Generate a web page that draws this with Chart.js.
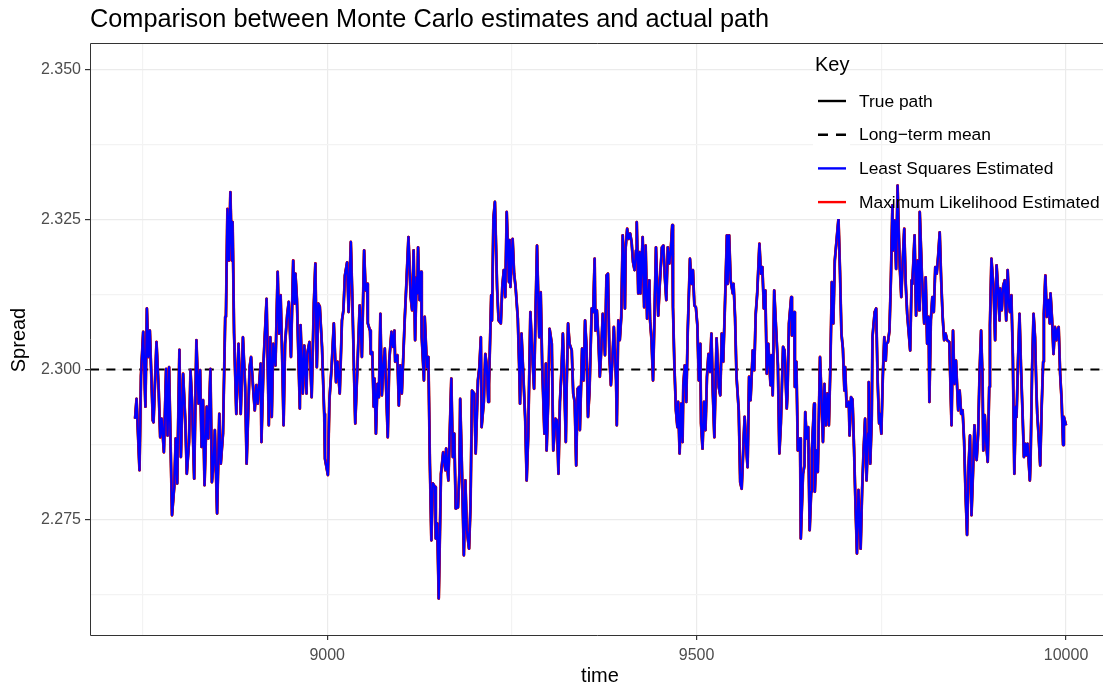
<!DOCTYPE html>
<html>
<head>
<meta charset="utf-8">
<script src="https://cdn.jsdelivr.net/npm/chart.js@4.4.1/dist/chart.umd.min.js"></script>
<style>
  html, body { margin: 0; padding: 0; background: #fff; overflow: hidden; }
  canvas { display: block; }
</style>
</head>
<body>
<canvas id="spreadChart" width="1103" height="687"></canvas>
<script>
// Simulated spread path (time steps 8740..10000)
const time = [
    8740, 8742, 8746, 8748, 8751, 8754, 8756, 8758, 8760, 8764,
    8765, 8769, 8772, 8774, 8776, 8779, 8782, 8784, 8786, 8790,
    8793, 8795, 8797, 8800, 8802, 8805, 8808, 8810, 8813, 8815,
    8817, 8820, 8823, 8826, 8828, 8830, 8832, 8834, 8837, 8839,
    8842, 8844, 8846, 8848, 8851, 8854, 8856, 8859, 8862, 8863,
    8865, 8867, 8869, 8871, 8872, 8874, 8877, 8880, 8883, 8886,
    8889, 8891, 8895, 8897, 8900, 8902, 8904, 8906, 8910, 8911,
    8914, 8918, 8921, 8923, 8925, 8927, 8930, 8933, 8935, 8937,
    8939, 8941, 8943, 8946, 8948, 8951, 8954, 8956, 8957, 8959,
    8963, 8964, 8967, 8969, 8972, 8973, 8976, 8979, 8982, 8984,
    8986, 8988, 8990, 8993, 8996, 8997, 9001, 9003, 9006, 9009,
    9012, 9014, 9017, 9020, 9022, 9024, 9027, 9029, 9032, 9034,
    9037, 9038, 9041, 9044, 9047, 9050, 9052, 9054, 9055, 9058,
    9059, 9061, 9063, 9064, 9066, 9068, 9070, 9072, 9074, 9076,
    9078, 9082, 9084, 9087, 9089, 9091, 9092, 9095, 9097, 9099,
    9101, 9103, 9105, 9107, 9110, 9113, 9115, 9117, 9119, 9121,
    9122, 9123, 9125, 9127, 9128, 9131, 9132, 9135, 9137, 9139,
    9141, 9143, 9146, 9147, 9149, 9151, 9154, 9155, 9157, 9160,
    9161, 9164, 9166, 9168, 9170, 9172, 9174, 9177, 9179, 9180,
    9182, 9185, 9187, 9189, 9192, 9194, 9196, 9199, 9201, 9204,
    9206, 9208, 9209, 9212, 9214, 9216, 9218, 9219, 9222, 9223,
    9225, 9227, 9230, 9232, 9235, 9237, 9239, 9241, 9243, 9246,
    9247, 9248, 9251, 9253, 9255, 9258, 9260, 9261, 9263, 9265,
    9268, 9270, 9272, 9275, 9278, 9280, 9282, 9284, 9287, 9289,
    9291, 9294, 9296, 9297, 9299, 9301, 9304, 9306, 9309, 9311,
    9313, 9315, 9317, 9319, 9320, 9323, 9324, 9326, 9328, 9331,
    9333, 9335, 9337, 9339, 9341, 9342, 9345, 9347, 9349, 9351,
    9353, 9355, 9358, 9360, 9362, 9363, 9365, 9367, 9369, 9371,
    9373, 9376, 9378, 9380, 9382, 9384, 9386, 9388, 9391, 9392,
    9394, 9396, 9398, 9400, 9403, 9404, 9406, 9408, 9410, 9412,
    9414, 9416, 9418, 9419, 9421, 9423, 9424, 9427, 9429, 9431,
    9433, 9436, 9437, 9439, 9441, 9443, 9445, 9448, 9450, 9453,
    9455, 9457, 9459, 9461, 9463, 9465, 9467, 9468, 9470, 9472,
    9474, 9475, 9477, 9479, 9481, 9482, 9484, 9486, 9488, 9491,
    9493, 9495, 9497, 9499, 9501, 9503, 9505, 9506, 9508, 9510,
    9512, 9514, 9516, 9518, 9520, 9522, 9524, 9527, 9530, 9532,
    9534, 9536, 9538, 9541, 9542, 9544, 9546, 9549, 9550, 9552,
    9554, 9557, 9559, 9561, 9564, 9565, 9567, 9569, 9571, 9573,
    9576, 9578, 9580, 9582, 9585, 9587, 9589, 9591, 9593, 9595,
    9597, 9600, 9601, 9603, 9605, 9607, 9610, 9612, 9614, 9617,
    9619, 9622, 9623, 9625, 9628, 9629, 9632, 9633, 9635, 9637,
    9640, 9641, 9644, 9646, 9647, 9649, 9651, 9653, 9655, 9656,
    9659, 9660, 9662, 9664, 9667, 9669, 9671, 9673, 9675, 9677,
    9679, 9681, 9683, 9685, 9687, 9690, 9692, 9694, 9696, 9698,
    9700, 9701, 9703, 9706, 9707, 9709, 9711, 9713, 9715, 9717,
    9719, 9722, 9724, 9726, 9728, 9730, 9732, 9733, 9735, 9737,
    9738, 9741, 9743, 9745, 9747, 9748, 9750, 9752, 9754, 9756,
    9757, 9759, 9761, 9763, 9765, 9766, 9768, 9770, 9772, 9773,
    9775, 9777, 9779, 9781, 9783, 9785, 9787, 9789, 9791, 9792,
    9795, 9797, 9799, 9801, 9802, 9805, 9806, 9808, 9810, 9812,
    9814, 9815, 9817, 9819, 9821, 9823, 9825, 9827, 9829, 9831,
    9833, 9835, 9837, 9839, 9842, 9845, 9847, 9849, 9851, 9854,
    9856, 9858, 9860, 9862, 9864, 9866, 9868, 9870, 9872, 9874,
    9876, 9878, 9879, 9881, 9883, 9885, 9887, 9888, 9890, 9892,
    9894, 9896, 9897, 9899, 9902, 9904, 9906, 9908, 9910, 9911,
    9913, 9915, 9917, 9919, 9921, 9923, 9924, 9926, 9928, 9930,
    9932, 9933, 9935, 9937, 9939, 9941, 9943, 9945, 9946, 9948,
    9951, 9952, 9954, 9956, 9958, 9960, 9961, 9963, 9965, 9967,
    9969, 9970, 9972, 9974, 9976, 9978, 9979, 9981, 9983, 9985,
    9987, 9988, 9990, 9992, 9994, 9996, 9997, 10000
];

const truePath = [
    2.2918, 2.2951, 2.2832, 2.2990, 2.3063, 2.2938, 2.3102, 2.3021, 2.3065, 2.2915,
    2.2912, 2.3046, 2.2965, 2.2887, 2.2918, 2.2862, 2.3001, 2.2890, 2.3004, 2.2757,
    2.2804, 2.2885, 2.2810, 2.3033, 2.2854, 2.2993, 2.2915, 2.2826, 2.2879, 2.2999,
    2.2949, 2.2818, 2.3049, 2.2943, 2.2999, 2.2871, 2.2949, 2.2807, 2.2938, 2.2885,
    2.3001, 2.2812, 2.2840, 2.2899, 2.2760, 2.2926, 2.2843, 2.2893, 2.3088, 2.3090,
    2.3268, 2.3182, 2.3296, 2.3182, 2.3246, 2.3060, 2.2926, 2.3043, 2.2926, 2.3054,
    2.2971, 2.2843, 2.3004, 2.3021, 2.2965, 2.2932, 2.2974, 2.2943, 2.3010, 2.2879,
    2.3015, 2.3118, 2.2907, 2.3054, 2.2921, 2.3043, 2.3007, 2.3163, 2.3060, 2.3124,
    2.3026, 2.2907, 2.3043, 2.3093, 2.3113, 2.3021, 2.3182, 2.3110, 2.3160, 2.3118,
    2.2935, 2.3074, 2.2960, 2.3040, 2.2960, 2.3026, 2.3046, 2.2954, 2.3110, 2.3177,
    2.3004, 2.3110, 2.3105, 2.3038, 2.2926, 2.2851, 2.2824, 2.2949, 2.3004, 2.3077,
    2.2979, 2.3013, 2.2960, 2.3082, 2.3099, 2.3157, 2.3179, 2.3096, 2.3213, 2.3121,
    2.2960, 2.2910, 2.3007, 2.3107, 2.3021, 2.3199, 2.3132, 2.3143, 2.3077, 2.3065,
    2.3026, 2.3029, 2.2938, 2.2985, 2.2893, 2.2976, 2.2954, 2.3093, 2.2957, 2.3004,
    2.3035, 2.2887, 2.3015, 2.3063, 2.3038, 2.3065, 2.3013, 2.3024, 2.2940, 2.3007,
    2.2960, 2.3021, 2.3085, 2.3138, 2.3221, 2.3121, 2.3099, 2.3199, 2.3049, 2.3154,
    2.3127, 2.3204, 2.3116, 2.3163, 2.3054, 2.2982, 2.3088, 2.3004, 2.3021, 2.2843,
    2.2715, 2.2810, 2.2804, 2.2718, 2.2743, 2.2618, 2.2826, 2.2837, 2.2862, 2.2832,
    2.2868, 2.2815, 2.2899, 2.2985, 2.2854, 2.2893, 2.2768, 2.2770, 2.2829, 2.2951,
    2.2854, 2.2690, 2.2815, 2.2732, 2.2701, 2.2774, 2.2965, 2.2960, 2.2860, 2.2982,
    2.3004, 2.3054, 2.2904, 2.2946, 2.3026, 2.3007, 2.2946, 2.2976, 2.3124, 2.3082,
    2.3252, 2.3280, 2.3135, 2.3082, 2.3077, 2.3138, 2.3166, 2.3121, 2.3263, 2.3146,
    2.3216, 2.3138, 2.3218, 2.3160, 2.3138, 2.3085, 2.2999, 2.2943, 2.3060, 2.3004,
    2.2918, 2.2815, 2.2887, 2.3096, 2.3015, 2.2968, 2.3093, 2.3207, 2.3054, 2.3129,
    2.3007, 2.2893, 2.3010, 2.2865, 2.2943, 2.3068, 2.3043, 2.2865, 2.2918, 2.2915,
    2.2826, 2.2946, 2.2996, 2.3060, 2.3018, 2.2879, 2.2965, 2.3077, 2.3043, 2.3032,
    2.2960, 2.2946, 2.2840, 2.2968, 2.2971, 2.2899, 2.3035, 2.2982, 2.3082, 2.3038,
    2.2921, 2.2963, 2.3102, 2.3096, 2.3185, 2.3065, 2.3099, 2.3054, 2.2988, 2.3035,
    2.3093, 2.3024, 2.3157, 2.3160, 2.3021, 2.2974, 2.3015, 2.3071, 2.2982, 2.2907,
    2.3082, 2.3049, 2.3088, 2.3224, 2.3102, 2.3204, 2.3235, 2.3218, 2.3227, 2.3213,
    2.3179, 2.3166, 2.3199, 2.3246, 2.3127, 2.3196, 2.3127, 2.3221, 2.3104, 2.3207,
    2.3085, 2.3149, 2.3082, 2.3049, 2.2982, 2.3090, 2.3204, 2.3090, 2.3140, 2.3204,
    2.3207, 2.3154, 2.3116, 2.3204, 2.3177, 2.3199, 2.3241, 2.3104, 2.3004, 2.2932,
    2.2904, 2.2946, 2.2860, 2.2943, 2.2879, 2.2974, 2.3007, 2.2946, 2.3065, 2.3185,
    2.3143, 2.3166, 2.3107, 2.3104, 2.3074, 2.2982, 2.3043, 2.2910, 2.2868, 2.2946,
    2.2899, 2.2988, 2.3026, 2.2996, 2.3060, 2.2960, 2.2887, 2.3052, 2.2971, 2.2957,
    2.3060, 2.3013, 2.3093, 2.3224, 2.3143, 2.3224, 2.3149, 2.3127, 2.3143, 2.3088,
    2.2988, 2.2932, 2.2812, 2.2801, 2.2893, 2.2921, 2.2871, 2.2837, 2.2988, 2.2949,
    2.3032, 2.2999, 2.3093, 2.3127, 2.3210, 2.3160, 2.3171, 2.3102, 2.3132, 2.2993,
    2.3043, 2.2974, 2.3024, 2.2957, 2.3132, 2.3082, 2.3007, 2.2860, 2.2910, 2.3038,
    2.3032, 2.2935, 2.2960, 2.3077, 2.3121, 2.3057, 2.3096, 2.2971, 2.3013, 2.2865,
    2.2885, 2.2718, 2.2826, 2.2840, 2.2929, 2.2885, 2.2904, 2.2732, 2.2796, 2.2865,
    2.2943, 2.2796, 2.2865, 2.2829, 2.3021, 2.2954, 2.2879, 2.2976, 2.2907, 2.2960,
    2.2907, 2.3004, 2.3146, 2.3077, 2.3182, 2.3224, 2.3252, 2.3166, 2.3060, 2.3035,
    2.2965, 2.3004, 2.2938, 2.2946, 2.2890, 2.2954, 2.2950, 2.2871, 2.2776, 2.2693,
    2.2799, 2.2701, 2.2799, 2.2865, 2.2918, 2.2815, 2.2893, 2.2979, 2.2843, 2.2918,
    2.3054, 2.3096, 2.3102, 2.2982, 2.2910, 2.2926, 2.2893, 2.2988, 2.3054, 2.3015,
    2.3043, 2.3046, 2.3065, 2.3154, 2.3274, 2.3199, 2.3249, 2.3168, 2.3307, 2.3255,
    2.3171, 2.3121, 2.3182, 2.3235, 2.3143, 2.3093, 2.3063, 2.3032, 2.3149, 2.3143,
    2.3224, 2.3090, 2.3182, 2.3099, 2.3263, 2.3154, 2.3132, 2.3077, 2.3154, 2.3043,
    2.3088, 2.2946, 2.3082, 2.3121, 2.3096, 2.3171, 2.3160, 2.3191, 2.3229, 2.3149,
    2.3088, 2.3049, 2.3060, 2.3049, 2.3046, 2.2907, 2.3065, 2.2976, 2.3015, 2.2932,
    2.2965, 2.2926, 2.2932, 2.2882, 2.2793, 2.2724, 2.2837, 2.2890, 2.2757, 2.2826,
    2.2907, 2.2854, 2.2849, 2.2893, 2.2996, 2.3065, 2.2982, 2.2865, 2.2924, 2.2876,
    2.2846, 2.2971, 2.3074, 2.3185, 2.3132, 2.3049, 2.3174, 2.3132, 2.3082, 2.3135,
    2.3099, 2.3140, 2.3149, 2.3082, 2.3166, 2.3104, 2.3096, 2.3124, 2.3021, 2.2826,
    2.2938, 2.2921, 2.3015, 2.3093, 2.3004, 2.2932, 2.2854, 2.2876, 2.2857, 2.2876,
    2.2815, 2.2851, 2.2999, 2.3093, 2.3054, 2.2960, 2.2926, 2.2887, 2.2840, 2.2938,
    2.3013, 2.3093, 2.3157, 2.3088, 2.3116, 2.3077, 2.3127, 2.3085, 2.3026, 2.3071,
    2.3049, 2.3065, 2.3071, 2.2993, 2.2949, 2.2874, 2.2921, 2.2907
];

// Both estimators track the true path to within line width
const lsEstimate = truePath.slice();
const mlEstimate = truePath.slice();
const longTermMean = 2.3;

const xTicks = [8750, 9000, 9250, 9500, 9750, 10000];
const xLabels = ['', '9000', '', '9500', '', '10000'];
const yTicks = [2.2625, 2.275, 2.2875, 2.3, 2.3125, 2.325, 2.3375, 2.35];
const yLabels = ['', '2.275', '', '2.300', '', '2.325', '', '2.350'];

const xRange = [8679, 10050];
const yRange = [2.2557, 2.3545];

const FONT = '"Liberation Sans", Arial, Helvetica, sans-serif';

function toPoints(xs, ys) {
    return xs.map((x, i) => ({ x: x, y: ys[i] }));
}

const legendItems = [
    { label: 'True path', color: '#000000', dash: [] },
    { label: 'Long\u2212term mean', color: '#000000', dash: [10, 8] },
    { label: 'Least Squares Estimated', color: '#0000FF', dash: [] },
    { label: 'Maximum Likelihood Estimated', color: '#FF0000', dash: [] }
];

// Title, axis titles, panel border and the key
const decorations = {
    id: 'decorations',
    afterDraw(chart) {
        const ctx = chart.ctx;
        const area = chart.chartArea;
        ctx.save();

        ctx.strokeStyle = '#333333';
        ctx.lineWidth = 1;
        ctx.beginPath();
        ctx.moveTo(area.right + 2, area.top + 0.5);
        ctx.lineTo(area.left + 0.5, area.top + 0.5);
        ctx.lineTo(area.left + 0.5, area.bottom + 0.5);
        ctx.lineTo(area.right + 2, area.bottom + 0.5);
        ctx.stroke();

        ctx.fillStyle = '#000000';
        ctx.font = '25.3px ' + FONT;
        ctx.textAlign = 'left';
        ctx.textBaseline = 'alphabetic';
        ctx.fillText('Comparison between Monte Carlo estimates and actual path', 90, 27);

        ctx.font = '20px ' + FONT;
        ctx.textAlign = 'center';
        ctx.textBaseline = 'middle';
        ctx.fillText('time', 600, 676);
        ctx.save();
        ctx.translate(19, 340);
        ctx.rotate(-Math.PI / 2);
        ctx.fillText('Spread', 0, 0);
        ctx.restore();

        // key
        ctx.fillStyle = '#FFFFFF';
        ctx.fillRect(813, 84, 37, 135);
        ctx.fillStyle = '#000000';
        ctx.textAlign = 'left';
        ctx.font = '20px ' + FONT;
        ctx.fillText('Key', 815, 65);
        ctx.font = '17.4px ' + FONT;
        legendItems.forEach((item, i) => {
            const y = 101 + i * 33.7;
            ctx.strokeStyle = item.color;
            ctx.lineWidth = 2.4;
            ctx.setLineDash(item.dash);
            ctx.beginPath();
            ctx.moveTo(818, y);
            ctx.lineTo(846, y);
            ctx.stroke();
            ctx.setLineDash([]);
            ctx.fillStyle = '#000000';
            ctx.fillText(item.label, 859, y + 1);
        });

        ctx.restore();
    }
};

const lineStyle = {
    pointRadius: 0,
    fill: false,
    tension: 0,
    borderJoinStyle: 'round',
    borderCapStyle: 'butt'
};

new Chart(document.getElementById('spreadChart'), {
    type: 'line',
    data: {
        datasets: [
            Object.assign({ label: 'Least Squares Estimated', data: toPoints(time, lsEstimate), borderColor: '#0000FF', borderWidth: 2.2 }, lineStyle),
            Object.assign({ label: 'Maximum Likelihood Estimated', data: toPoints(time, mlEstimate), borderColor: '#FF0000', borderWidth: 2.8 }, lineStyle),
            Object.assign({ label: 'True path', data: toPoints(time, truePath), borderColor: '#000000', borderWidth: 2.6 }, lineStyle),
            Object.assign({ label: 'Long-term mean', data: toPoints(xRange, [longTermMean, longTermMean]), borderColor: '#000000', borderWidth: 2, borderDash: [9, 7.4] }, lineStyle)
        ]
    },
    options: {
        responsive: false,
        animation: false,
        devicePixelRatio: 1,
        layout: { padding: { top: 43, left: 0, right: 0, bottom: 0 } },
        plugins: {
            legend: { display: false },
            tooltip: { enabled: false },
            title: { display: false }
        },
        scales: {
            x: {
                type: 'linear',
                min: xRange[0],
                max: xRange[1],
                afterFit: scale => { scale.height = 52; },
                afterBuildTicks: scale => { scale.ticks = xTicks.map(v => ({ value: v })); },
                ticks: {
                    callback: (value, index) => xLabels[index],
                    autoSkip: false,
                    maxRotation: 0,
                    padding: 6,
                    color: '#4D4D4D',
                    font: { family: FONT, size: 16 }
                },
                grid: {
                    color: ctx => xLabels[ctx.index] ? '#EBEBEB' : '#F3F3F3',
                    lineWidth: 1.2,
                    tickLength: 5,
                    tickWidth: 1.2,
                    tickColor: ctx => xLabels[ctx.index] ? '#333333' : 'rgba(0,0,0,0)'
                },
                border: { display: false }
            },
            y: {
                type: 'linear',
                min: yRange[0],
                max: yRange[1],
                afterFit: scale => { scale.width = 90; },
                afterBuildTicks: scale => { scale.ticks = yTicks.map(v => ({ value: v })); },
                ticks: {
                    callback: (value, index) => yLabels[index],
                    autoSkip: false,
                    padding: 4,
                    color: '#4D4D4D',
                    font: { family: FONT, size: 16 }
                },
                grid: {
                    color: ctx => yLabels[ctx.index] ? '#EBEBEB' : '#F3F3F3',
                    lineWidth: 1.2,
                    tickLength: 5,
                    tickWidth: 1.2,
                    tickColor: ctx => yLabels[ctx.index] ? '#333333' : 'rgba(0,0,0,0)'
                },
                border: { display: false }
            }
        }
    },
    plugins: [decorations]
});
</script>
</body>
</html>
